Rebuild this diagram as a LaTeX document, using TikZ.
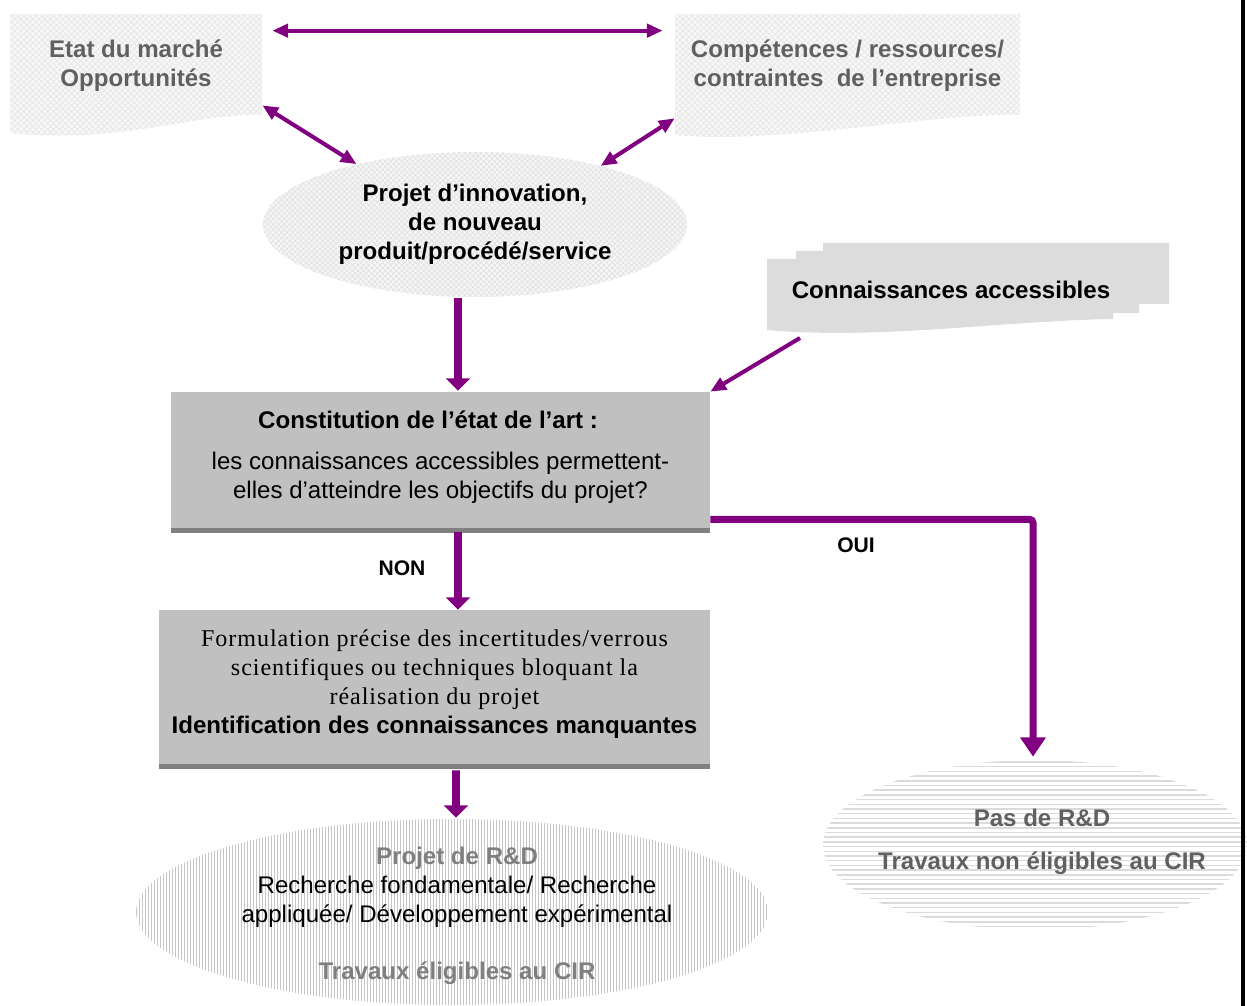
\documentclass[tikz,border=0pt]{standalone}
\usepackage{fontspec}
\setmainfont{Liberation Sans}
\newfontfamily\seriffont[LetterSpace=4]{Liberation Serif}
\usetikzlibrary{arrows.meta,calc,patterns.meta,positioning,shapes.geometric}
\definecolor{cirpurple}{HTML}{800080}
\definecolor{softgray}{HTML}{606060}
\definecolor{rdgray}{HTML}{7F7F7F}
\definecolor{boxgray}{HTML}{C0C0C0}
\definecolor{edgegray}{HTML}{808080}
\definecolor{notegray}{HTML}{DCDCDC}

\begin{document}
\begin{tikzpicture}[
    x=0.02cm, y=-0.02cm,
    every node/.style={inner sep=0pt, font=\fontsize{13.7}{16.4}\selectfont},
    banner/.style={preaction={fill=gray!6}, pattern={Hatch[angle=45,distance=2.4pt,line width=0.3pt]}, pattern color=gray!22},
    bannertext/.style={text=softgray, font=\fontsize{13.7}{16.4}\selectfont\bfseries, align=center},
    stepbox/.style={fill=boxgray, align=center, text depth=7.5pt},
    boxfoot/.style={edgegray, line width=2.8pt},
    linkarrow/.style={cirpurple, line width=2.3pt, {Triangle[length=9pt,width=7.5pt]}-{Triangle[length=9pt,width=7.5pt]}},
    feedarrow/.style={cirpurple, line width=2.3pt, -{Triangle[length=9pt,width=7.5pt]}},
    flowarrow/.style={cirpurple, line width=4.5pt, -{Triangle[length=7pt,width=13.5pt]}},
    yesarrow/.style={cirpurple, line width=4pt, rounded corners=2pt, -{Triangle[length=11pt,width=14pt]}},
    answer/.style={font=\fontsize{12}{14}\selectfont\bfseries}
]
    \useasboundingbox (0,0) rectangle (1247,1006);

    % Banners
    \fill[banner] (10,14) -- (262,14) -- (262,115) .. controls (200,112) and (120,145) .. (10,133) -- cycle;
    \fill[banner] (675,14) -- (1020,14) -- (1020,115) .. controls (940,112) and (780,145) .. (675,135) -- cycle;
    \fill[notegray] (767,259) -- (796,259) -- (796,251) -- (823,251) -- (823,243) -- (1169,243)
        -- (1169,304) -- (1139,304) -- (1139,313) -- (1113,313) -- (1113,319)
        .. controls (1000,321) and (880,340) .. (767,330) -- cycle;

    \node[bannertext, minimum width=5.04cm, minimum height=1.96cm] (marche) at (136,66) {Etat du marché\\Opportunités};
    \node[bannertext, minimum width=6.9cm, minimum height=1.96cm] (comp) at (847.5,66) {Compétences / ressources/\\contraintes\ \ de l’entreprise};
    \node[font=\fontsize{13.7}{16.4}\selectfont\bfseries] (conn) at (951,290) {Connaissances accessibles};
    \coordinate (connfoot) at (800,338);

    % Project
    \node[ellipse, minimum width=8.48cm, minimum height=2.9cm, preaction={fill=gray!8},
        pattern={Hatch[angle=45,distance=2.2pt,line width=0.3pt]}, pattern color=gray!25,
        align=center, font=\fontsize{13.7}{16.4}\selectfont\bfseries] (projet) at (475,224.5)
        {Projet d’innovation,\\de nouveau\\produit/procédé/service};

    % Steps
    \node[stepbox, minimum width=10.78cm, minimum height=2.76cm] (etat) at (440.5,461)
        {\textbf{Constitution de l’état de l’art :}\hspace*{0.5cm}\\[7pt]les connaissances accessibles permettent-\\elles d’atteindre les objectifs du projet?};
    \draw[boxfoot] (etat.south west) -- (etat.south east);

    \node[stepbox, minimum width=11.02cm, minimum height=3.12cm] (verrous) at (434.5,688)
        {\seriffont Formulation précise des incertitudes/verrous\\\seriffont scientifiques ou techniques bloquant la\\\seriffont réalisation du projet\\
         \textbf{Identification des connaissances manquantes}};
    \draw[boxfoot] (verrous.south west) -- (verrous.south east);

    % Outcomes
    \node[ellipse, minimum width=12.64cm, minimum height=3.72cm] (rd) at (452,912) {};
    \begin{scope}
        \clip (452,912) ellipse [x radius=316, y radius=93];
        \foreach \x in {136.5,139.5,...,768} {
            \draw[gray!45, line width=0.567pt] (\x,818) -- (\x,1006);
        }
    \end{scope}
    \node[align=center] (rdtext) at ($(rd)+(5,4)$)
        {\textcolor{rdgray}{\bfseries Projet de R\&D}\\Recherche fondamentale/ Recherche\\appliquée/ Développement expérimental\\[16.4pt]\textcolor{rdgray}{\bfseries Travaux éligibles au CIR}};

    \node[ellipse, minimum width=8.48cm, minimum height=3.4cm] (pasrd) at (1035,845) {};
    \begin{scope}
        \clip (1035,845) ellipse [x radius=212, y radius=85];
        \foreach \y in {762,766.7,...,930} {
            \draw[gray!28, line width=0.9pt] (822,\y) -- (1247,\y);
        }
    \end{scope}
    \node[align=center, text=softgray, font=\fontsize{13.7}{16.4}\selectfont\bfseries] (pastext) at ($(pasrd)+(7,-3)$)
        {Pas de R\&D\\[8pt]Travaux non éligibles au CIR};

    % Arrows
    \draw[linkarrow] ($(marche.north east)+(10,14)$) -- ($(comp.north west)+(-12,14)$);
    \draw[linkarrow] ($(marche.south east)+(0,-10)$) -- (projet.153);
    \draw[linkarrow] ($(comp.south west)+(0,3)$) -- (projet.25);
    \draw[flowarrow] ($(projet.south)+(-17,1)$) -- ($(etat.north)+(17.5,-1)$);
    \draw[feedarrow] (connfoot) -- (etat.north east);
    \draw[flowarrow] ($(etat.south)+(17.5,2)$) -- ($(verrous.north)+(23.5,0)$);
    \draw[yesarrow] ($(etat.south east)+(0,-11)$) -| ($(pasrd.north)+(-2,-3)$);
    \draw[flowarrow] ($(verrous.south)+(21.5,4)$) -- ($(rd.north)+(4,-1)$);

    % Answers
    \node[answer] (non) at (402,568) {NON};
    \node[answer] (oui) at (856,545) {OUI};

    % Frame edge
    \fill[black] (1241,0) rectangle (1245,1006);
\end{tikzpicture}
\end{document}
